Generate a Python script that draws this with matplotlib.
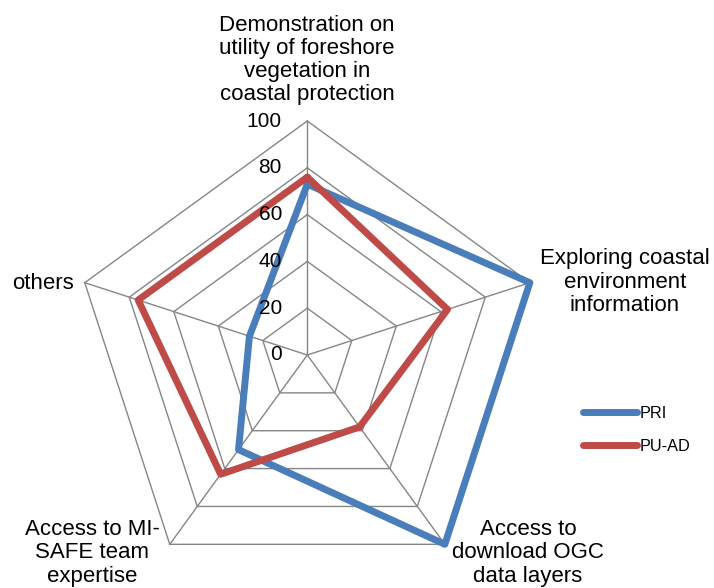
import numpy as np
import matplotlib
matplotlib.use("Agg")
import matplotlib.pyplot as plt

plt.rcParams['font.family'] = ['Liberation Sans', 'DejaVu Sans']

categories = [
    "Demonstration on\nutility of foreshore\nvegetation in\ncoastal protection",
    "Exploring coastal\nenvironment\ninformation",
    "Access to\ndownload OGC\ndata layers",
    "Access to MI-\nSAFE team\nexpertise",
    "others",
]
pri = [73, 100, 100, 50, 26]
pu_ad = [76, 63, 38, 63, 76]
ticks = [0, 20, 40, 60, 80, 100]

# pixel geometry of the drawing
W, H = 714, 588
cx, cy, scale = 307.3, 355.0, 2.34   # centre in px, px per unit


def px(x, y):
    """pixel position (from top-left) -> data coords"""
    return (x - cx) / scale, (cy - y) / scale


n = len(categories)
ang = np.deg2rad(90 - 72 * np.arange(n))
ux, uy = np.cos(ang), np.sin(ang)

fig = plt.figure(figsize=(W / 100, H / 100), dpi=100)
ax = fig.add_axes([0, 0, 1, 1])
ax.set_xlim(-cx / scale, (W - cx) / scale)
ax.set_ylim(-(H - cy) / scale, cy / scale)
ax.axis("off")

grid_c = "#868686"
for r in ticks[1:]:
    ax.plot(np.append(ux, ux[0]) * r, np.append(uy, uy[0]) * r,
            color=grid_c, lw=1.0, zorder=1)
for i in range(n):
    ax.plot([0, ux[i] * 100], [0, uy[i] * 100], color=grid_c, lw=1.0, zorder=1)

# tick labels on the vertical axis
for t in ticks:
    x, _ = px(282, 0)
    ax.text(x, t, str(t), ha="right", va="center", fontsize=15, zorder=5)

series = [(pri, "#4a7ebb", "PRI"), (pu_ad, "#be4b48", "PU-AD")]
for vals, col, name in series:
    v = np.array(vals + vals[:1], dtype=float)
    ax.plot(v * np.append(ux, ux[0]), v * np.append(uy, uy[0]),
            color=col, lw=5, solid_joinstyle="round",
            solid_capstyle="round", label=name, zorder=3)

# category labels
label_pos = [(307, 60, "center"), (625, 282, "center"), (528, 553, "center"),
             (92, 553, "center"), (74, 283, "right")]
for lab, (x, y, ha) in zip(categories, label_pos):
    ax.text(*px(x, y), lab, ha=ha, va="center", ma="center",
            fontsize=16, linespacing=1.13)

ax.legend(loc="center left", bbox_to_anchor=(583 / W, 1 - 430 / H),
          bbox_transform=fig.transFigure, frameon=False, fontsize=11.7,
          handlelength=3.3, handletextpad=0.2, labelspacing=1.1,
          borderpad=0, borderaxespad=0)

fig.savefig("out.png", dpi=100)
